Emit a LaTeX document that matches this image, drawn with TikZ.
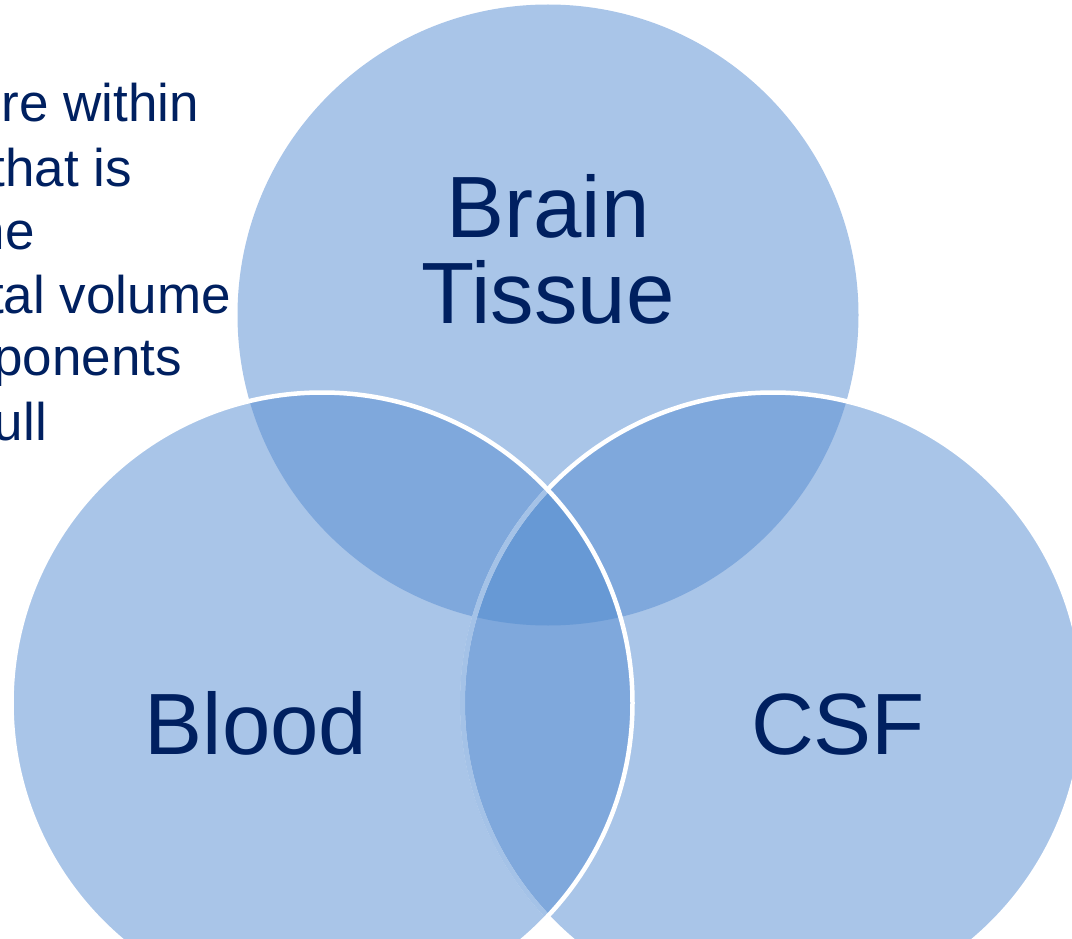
\documentclass[tikz,border=0pt]{standalone}
\usepackage{fontspec}
\setmainfont{Liberation Sans}
\usetikzlibrary{positioning}
\definecolor{VennLight}{HTML}{A9C5E8}
\definecolor{VennMid}{HTML}{7FA8DC}
\definecolor{VennDeep}{HTML}{6799D5}
\definecolor{VennHalo}{HTML}{A4C2E7}
\definecolor{LabelNavy}{HTML}{002060}

\begin{document}
\begin{tikzpicture}[x=1pt,y=-1pt,
    rim/.style={draw=white,line width=4.5pt},
    halo/.style={draw=VennHalo,line width=5pt},
    setlabel/.style={text=LabelNavy,inner sep=0pt,font=\fontsize{87}{86}\selectfont},
    notetext/.style={text=LabelNavy,inner sep=0pt,anchor=base east,font=\fontsize{53}{64}\selectfont}]
    \useasboundingbox (0,0) rectangle (1072,939);
    \clip (0,0) rectangle (1072,939);
    \def\vr{310.5pt}
    \coordinate (brainC) at (548,315);
    \coordinate (bloodC) at (322,703);
    \coordinate (csfC) at (773,703);
    % note lines cut by the left edge
    \foreach \txt/\xe/\yb [count=\i] in {re within/199/122,that is/132/186,ne/35/249,
        tal volume/231/313,ponents/182/375,ull/47/440}
      \node[notetext] (note\i) at (\xe,\yb) {\txt};
    % the three sets
    \fill[VennLight] (brainC) circle[radius=\vr];
    \fill[VennLight] (bloodC) circle[radius=\vr];
    \fill[VennLight] (csfC) circle[radius=\vr];
    \begin{scope}
      \clip (bloodC) circle[radius=\vr];
      \fill[VennMid] (csfC) circle[radius=\vr];
    \end{scope}
    \begin{scope}
      \clip (brainC) circle[radius=\vr];
      \fill[VennMid] (bloodC) circle[radius=\vr];
      \fill[VennMid] (csfC) circle[radius=\vr];
      \clip (bloodC) circle[radius=\vr];
      \fill[VennDeep] (csfC) circle[radius=\vr];
    \end{scope}
    % outlines
    \draw[rim] (csfC) circle[radius=\vr];
    \begin{scope}
      \clip (bloodC) circle[radius=\vr];
      \draw[halo] (csfC) circle[radius=\vr];
    \end{scope}
    \draw[rim] (bloodC) circle[radius=\vr];
    % labels
    \node[setlabel,align=center,anchor=north] (brain) at (548,174) {Brain\\Tissue};
    \node[setlabel,anchor=base] (blood) at (256,754) {Blood};
    \node[setlabel,anchor=base] (csf) at (838,754) {CSF};
\end{tikzpicture}
\end{document}
